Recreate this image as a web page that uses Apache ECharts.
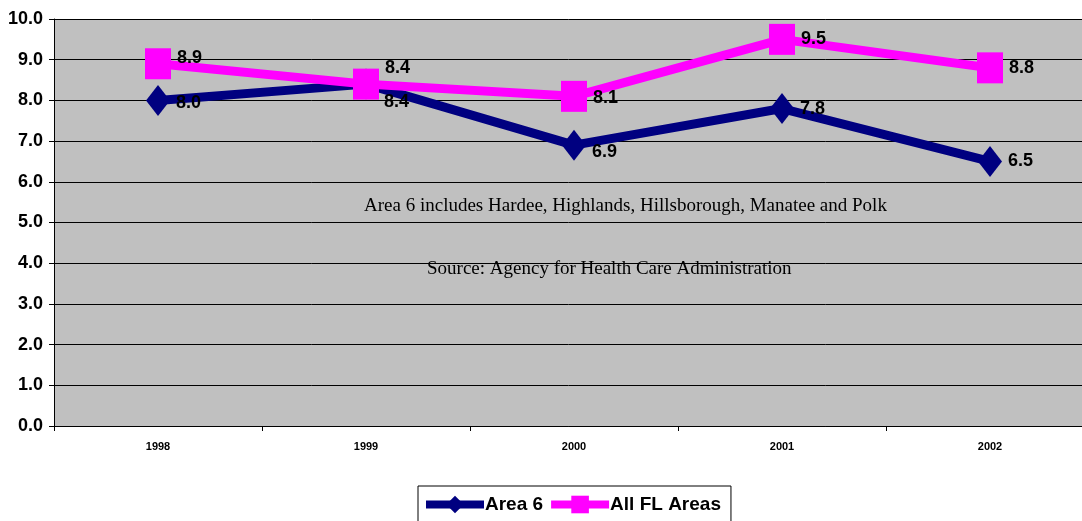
<!DOCTYPE html>
<html>
<head>
<meta charset="utf-8">
<script src="https://cdn.jsdelivr.net/npm/echarts@6/dist/echarts.min.js"></script>
<style>
  html, body { margin: 0; padding: 0; background: #fff; }
  #main { width: 1082px; height: 521px; }
</style>
</head>
<body>
<div id="main"></div>
<script>
var myChart = echarts.init(document.getElementById('main'));

var years = ['1998', '1999', '2000', '2001', '2002'];
var area6 = [8.0, 8.4, 6.9, 7.8, 6.5];
var allFL = [8.9, 8.4, 8.1, 9.5, 8.8];
var notes = [
    'Area 6 includes Hardee, Highlands, Hillsborough, Manatee and Polk',
    'Source: Agency for Health Care Administration'
];

// label nudges so the two 1999 labels don't collide
function withLabels(vals, offsets) {
    return vals.map(function (v, i) {
        return { value: v, label: { offset: offsets[i] || [0, 0] } };
    });
}

var labelFont = {
    color: '#000',
    fontFamily: 'Liberation Sans, Arial',
    fontWeight: 'bold',
    fontSize: 18,
    formatter: function (p) { return p.value.toFixed(1); }
};

option = {
    backgroundColor: '#fff',
    animation: false,
    grid: {
        left: 54,
        width: 1040,
        top: 19,
        bottom: 95,
        outerBoundsMode: 'none',
        show: true,
        backgroundColor: '#c0c0c0',
        borderWidth: 0
    },
    legend: {
        left: 418,
        top: 486,
        itemWidth: 58,
        itemHeight: 22,
        itemGap: 4,
        padding: [9, 10, 10, 4],
        borderColor: '#000',
        borderWidth: 1,
        backgroundColor: '#fff',
        lineStyle: { width: 8 },
        textStyle: {
            color: '#000',
            fontFamily: 'Liberation Sans, Arial',
            fontWeight: 'bold',
            fontSize: 19,
            padding: [0, 0, 0, -4]
        },
        data: ['Area 6', 'All FL Areas']
    },
    xAxis: {
        type: 'category',
        data: years,
        boundaryGap: true,
        axisLine: { lineStyle: { color: '#000', width: 1 } },
        axisTick: { show: true, length: 5, lineStyle: { color: '#000' } },
        axisLabel: {
            color: '#000',
            fontFamily: 'Liberation Sans, Arial',
            fontWeight: 'bold',
            fontSize: 11,
            margin: 15
        },
        splitLine: { show: false }
    },
    yAxis: {
        type: 'value',
        min: 0,
        max: 10,
        interval: 1,
        axisLine: { show: true, lineStyle: { color: '#000', width: 1 } },
        axisTick: { show: true, length: 5, lineStyle: { color: '#000' } },
        axisLabel: {
            color: '#000',
            fontFamily: 'Liberation Sans, Arial',
            fontWeight: 'bold',
            fontSize: 18,
            margin: 11,
            formatter: function (v) { return v.toFixed(1); }
        },
        splitLine: { show: true, lineStyle: { color: '#000', width: 1 } }
    },
    graphic: [
        {
            type: 'text',
            left: 364,
            top: 197,
            style: {
                text: notes[0],
                fill: '#000',
                font: '19px "Liberation Serif", "Times New Roman", serif'
            }
        },
        {
            type: 'text',
            left: 427,
            top: 260,
            style: {
                text: notes[1],
                fill: '#000',
                font: '19px "Liberation Serif", "Times New Roman", serif'
            }
        }
    ],
    series: [
        {
            name: 'Area 6',
            type: 'line',
            data: withLabels(area6, [[0, 3], [0, 18], [0, 7], [0, 0], [0, 0]]),
            symbol: 'diamond',
            symbolSize: [24, 31],
            color: '#000080',
            lineStyle: { color: '#000080', width: 9 },
            itemStyle: { color: '#000080' },
            label: Object.assign({ show: true, position: 'right', distance: 6 }, labelFont),
            z: 2
        },
        {
            name: 'All FL Areas',
            type: 'line',
            data: withLabels(allFL, [[0, -6], [0, -16], [0, 2], [0, 0], [0, 0]]),
            symbol: 'rect',
            symbolSize: [26, 31],
            color: '#ff00ff',
            lineStyle: { color: '#ff00ff', width: 9 },
            itemStyle: { color: '#ff00ff' },
            label: Object.assign({ show: true, position: 'right', distance: 6 }, labelFont),
            z: 3
        }
    ]
};
myChart.setOption(option);
</script>
</body>
</html>
